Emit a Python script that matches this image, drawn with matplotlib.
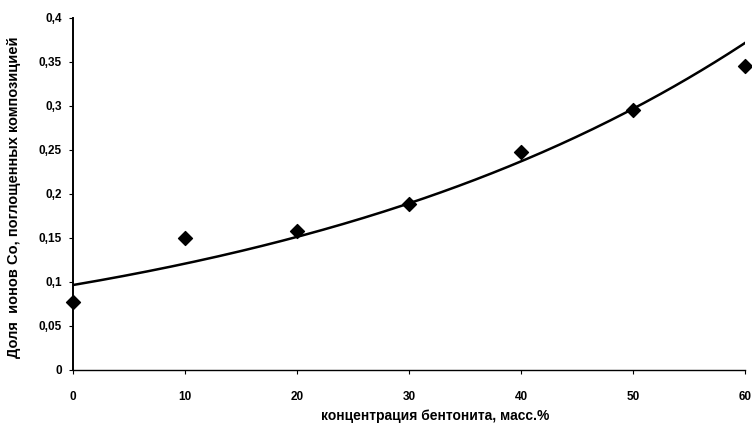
import numpy as np
import matplotlib
matplotlib.use("Agg")
import matplotlib.pyplot as plt
from matplotlib.ticker import FuncFormatter

plt.rcParams['font.family'] = ['Liberation Sans', 'DejaVu Sans']

bentonite = [0, 10, 20, 30, 40, 50, 60]
co_fraction = [0.077, 0.150, 0.158, 0.188, 0.248, 0.295, 0.345]
x_ticks = [0, 10, 20, 30, 40, 50, 60]
y_ticks = [0, 0.05, 0.1, 0.15, 0.2, 0.25, 0.3, 0.35, 0.4]

# exponential trendline fitted to the data (as in the original spreadsheet chart)
b, lna = np.polyfit(bentonite, np.log(co_fraction), 1)
xs = np.linspace(0, 60, 200)
trend = np.exp(lna + b * xs)

fig = plt.figure(figsize=(7.52, 4.24), dpi=100)
ax = fig.add_axes([0.097, 0.128, 0.894, 0.830])
ax.plot(xs, trend, color='black', lw=1.8, zorder=2)
ax.scatter(bentonite, co_fraction, marker='D', s=50, color='black', zorder=3, clip_on=False)

ax.set_xlim(0, 60)
ax.set_ylim(0, 0.4)
ax.set_xticks(x_ticks)
ax.set_yticks(y_ticks)
fmt = FuncFormatter(lambda v, p: ('%g' % round(v, 3)).replace('.', ','))
ax.yaxis.set_major_formatter(fmt)
ax.spines['top'].set_visible(False)
ax.spines['right'].set_visible(False)
ax.spines['left'].set_linewidth(1.4)
ax.spines['bottom'].set_linewidth(1.0)
ax.tick_params(axis='both', labelsize=8.5, length=3, width=0.8, direction='out')
ax.tick_params(axis='y', pad=5)
ax.tick_params(axis='x', pad=12)
for lab in ax.get_xticklabels() + ax.get_yticklabels():
    lab.set_fontweight('bold')

ax.set_xlabel('концентрация бентонита, масс.%', fontsize=10, fontweight='bold')
ax.xaxis.set_label_coords(0.539, -0.1425)
ax.xaxis.label.set_va('baseline')
ax.set_ylabel('Доля  ионов Co, поглощенных композицией', fontsize=10.5, fontweight='bold')
ax.yaxis.set_label_coords(-0.088, 0.49)
ax.yaxis.label.set_va('center')

fig.savefig('out.png', dpi=100)
